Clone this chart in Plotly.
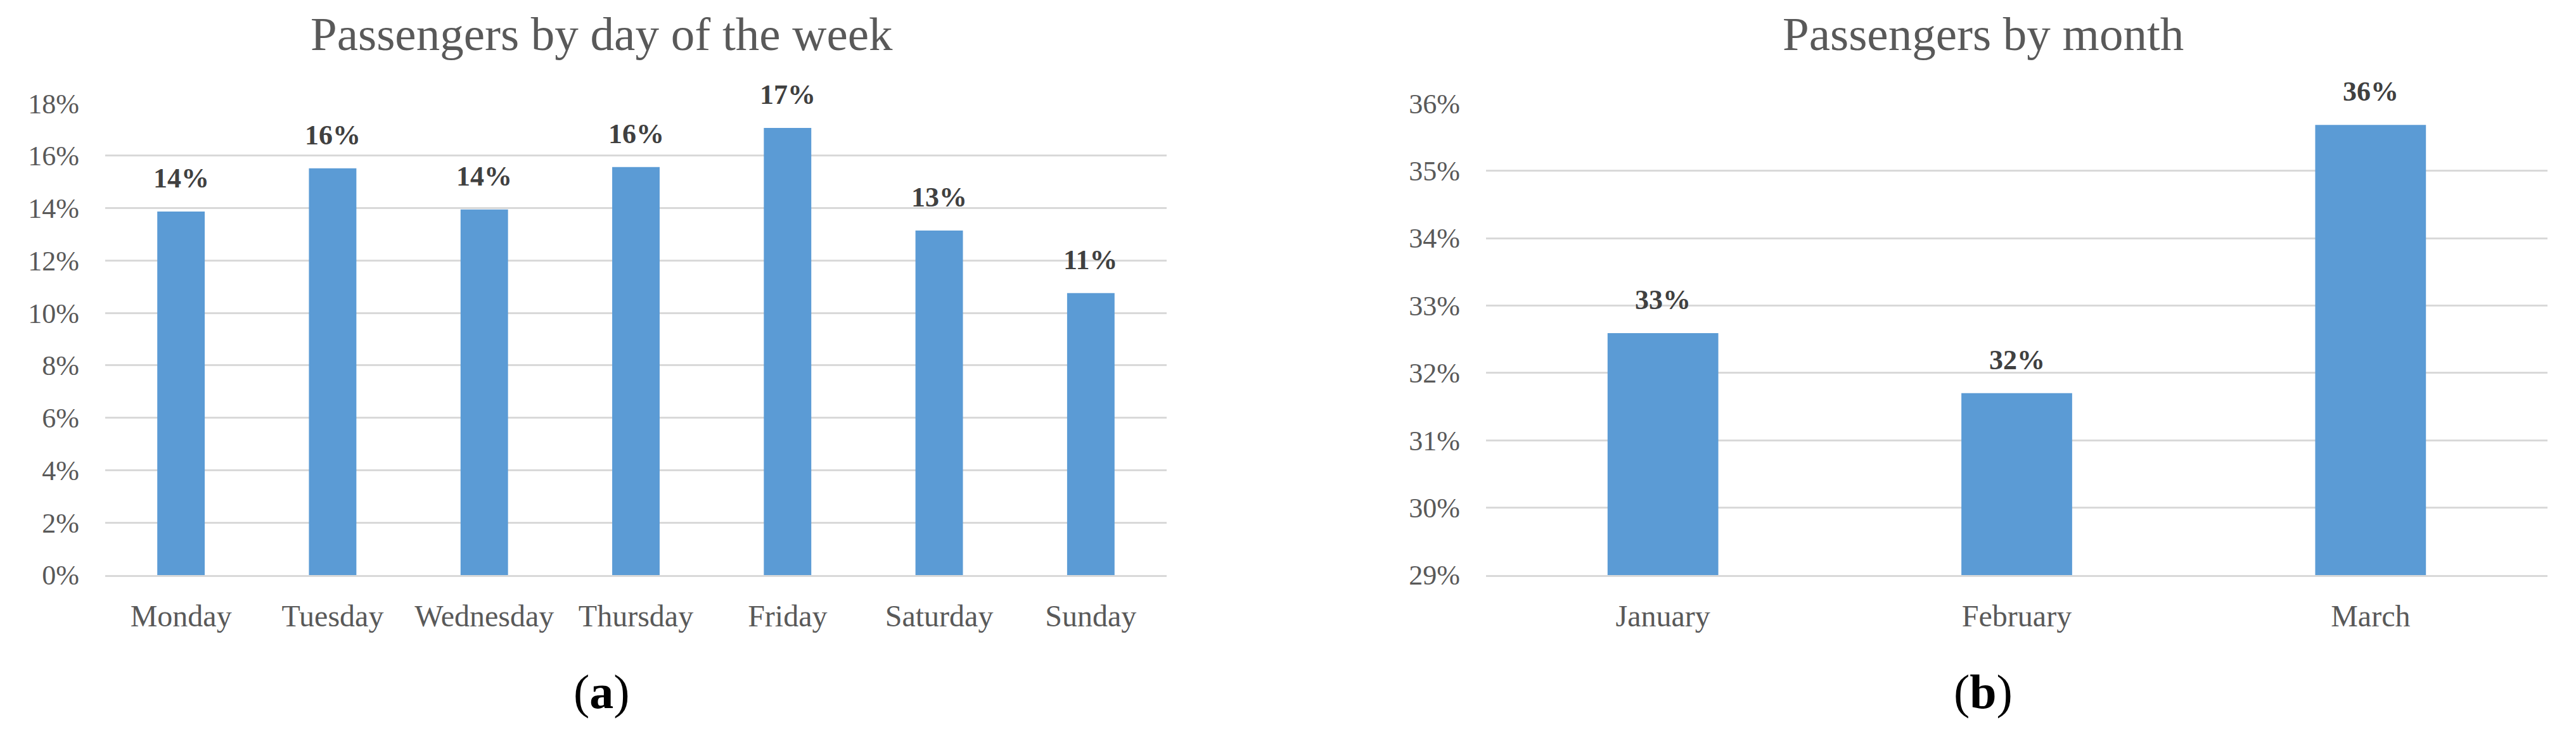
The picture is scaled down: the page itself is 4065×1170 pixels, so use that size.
import plotly.graph_objects as go

# ---- data ----
days = ["Monday", "Tuesday", "Wednesday", "Thursday", "Friday", "Saturday", "Sunday"]
day_share = [0.1387, 0.1552, 0.1395, 0.1557, 0.1706, 0.1315, 0.1076]
months = ["January", "February", "March"]
month_share = [0.3259, 0.3170, 0.3568]
title_a = "Passengers by day of the week"
title_b = "Passengers by month"

# ---- styles ----
OFF = 8  # default page body margin
W, H = 4065 - OFF, 1170 - OFF
FONT = "Liberation Serif"
BAR = "#5B9BD5"
GRID = "#D9D9D9"
GREY = "#595959"
LBL = "#404040"

def px_x(v):
    return (v - OFF) / W

def px_y(v):
    return 1 - (v - OFF) / H

fig = go.Figure()
fig.add_trace(go.Bar(x=days, y=day_share, marker_color=BAR, marker_line_width=0,
                     width=0.313, xaxis="x", yaxis="y", showlegend=False, hoverinfo="skip"))
fig.add_trace(go.Bar(x=months, y=month_share, marker_color=BAR, marker_line_width=0,
                     width=0.313, xaxis="x2", yaxis="y2", showlegend=False, hoverinfo="skip"))

ydom = [px_y(908), px_y(163)]
axis_common = dict(showgrid=False, zeroline=False, ticks="", showline=True,
                   linecolor=GRID, linewidth=3, automargin=False,
                   tickfont=dict(family=FONT, size=48, color=GREY), ticklabelstandoff=20)
yaxis_common = dict(showgrid=True, gridcolor=GRID, gridwidth=3, zeroline=False, ticks="",
                    showline=False, tickformat=".0%", automargin=False,
                    tickfont=dict(family=FONT, size=44, color=GREY), ticklabelstandoff=40)

fig.update_layout(
    width=W, height=H, margin=dict(l=0, r=0, t=0, b=0, autoexpand=False),
    paper_bgcolor="white", plot_bgcolor="white",
    xaxis=dict(domain=[px_x(166), px_x(1841)], anchor="y", **axis_common),
    yaxis=dict(domain=ydom, anchor="x", range=[0, 0.18005], tick0=0, dtick=0.02, **yaxis_common),
    xaxis2=dict(domain=[px_x(2345), px_x(4020)], anchor="y2", **axis_common),
    yaxis2=dict(domain=ydom, anchor="x2", range=[0.29, 0.36002], tick0=0.29, dtick=0.01, **yaxis_common),
    bargap=0.687,
)

ann = []
for xref, yref, cats, vals in [("x", "y", days, day_share), ("x2", "y2", months, month_share)]:
    for c, v in zip(cats, vals):
        ann.append(dict(x=c, y=v, xref=xref, yref=yref, text=f"<b>{v:.0%}</b>",
                        showarrow=False, yanchor="bottom", yshift=26,
                        font=dict(family=FONT, size=44, color=LBL)))

for cx, t, lab in [(949, title_a, "a"), (3129, title_b, "b")]:
    ann.append(dict(x=px_x(cx), y=px_y(53), xref="paper", yref="paper", text=t,
                    showarrow=False, xanchor="center", yanchor="middle",
                    font=dict(family=FONT, size=75, color=GREY)))
    ann.append(dict(x=px_x(cx), y=px_y(1092), xref="paper", yref="paper",
                    text=f"(<b>{lab}</b>)", showarrow=False, xanchor="center", yanchor="middle",
                    font=dict(family=FONT, size=76, color="black")))

fig.update_layout(annotations=ann)
fig.write_html("out.html")
